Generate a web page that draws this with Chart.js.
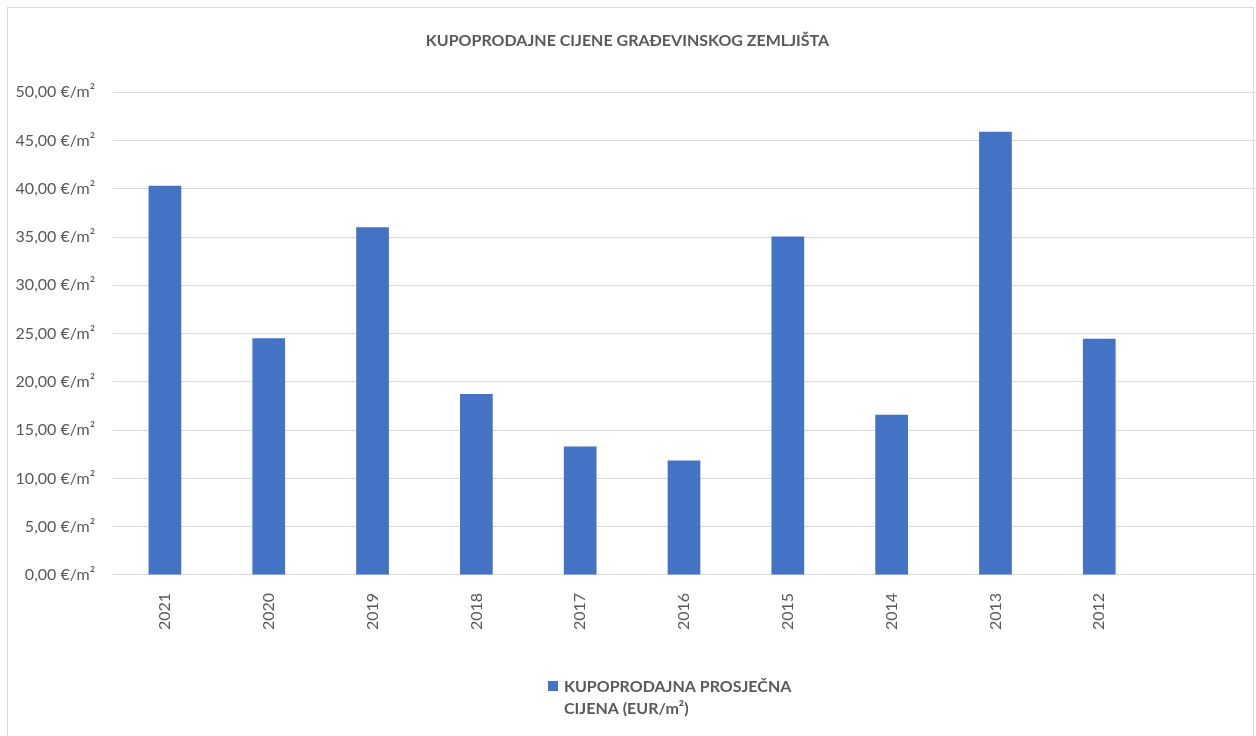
<!DOCTYPE html>
<html lang="hr">
<head>
  <meta charset="UTF-8" />
  <title>Kupoprodajne cijene građevinskog zemljišta</title>
  <script src="https://cdn.jsdelivr.net/npm/chart.js"></script>
  <style>
    html, body { margin: 0; padding: 0; background: #fff; }
    #wrap { position: relative; width: 1256px; height: 736px; }
  </style>
</head>
<body>
  <div id="wrap"><canvas id="chart"></canvas></div>

  <script>
    // data
    const years = ['2021', '2020', '2019', '2018', '2017', '2016', '2015', '2014', '2013', '2012', ''];
    const prices = [40.3, 24.5, 36.0, 18.75, 13.3, 11.85, 35.05, 16.6, 45.9, 24.45, null];
    const yTicks = [0, 5, 10, 15, 20, 25, 30, 35, 40, 45, 50];

    const titleText = 'KUPOPRODAJNE CIJENE GRAĐEVINSKOG ZEMLJIŠTA';
    const legendLines = ['KUPOPRODAJNA PROSJEČNA', 'CIJENA (EUR/m²)'];

    const textColor = '#595959';
    const barColor = '#4472C4';
    const fontFamily = 'Lato, "Open Sans", sans-serif';

    function euro(v) {
      return v.toFixed(2).replace('.', ',') + ' €/m²';
    }

    // white background + thin frame like the office chart border
    const frame = {
      id: 'frame',
      beforeDraw(chart) {
        const ctx = chart.ctx;
        ctx.save();
        ctx.fillStyle = '#fff';
        ctx.fillRect(0, 0, chart.width, chart.height);
        ctx.strokeStyle = '#d9d9d9';
        ctx.lineWidth = 1;
        ctx.strokeRect(7.5, 7.5, chart.width - 10, chart.height + 10);
        ctx.restore();
      }
    };

    // two-line legend under the axis
    const wrapLegend = {
      id: 'wrapLegend',
      afterDraw(chart) {
        const ctx = chart.ctx;
        const ds = chart.data.datasets[0];
        const x = 548, y = 681;
        ctx.save();
        ctx.fillStyle = ds.backgroundColor;
        ctx.fillRect(x, y, 10, 10);
        ctx.fillStyle = textColor;
        ctx.font = 'bold 16px ' + fontFamily;
        ctx.textBaseline = 'middle';
        ctx.textAlign = 'left';
        legendLines.forEach((line, i) => ctx.fillText(line, x + 16, y + 6 + i * 22));
        ctx.restore();
      }
    };

    new Chart(document.getElementById('chart'), {
      type: 'bar',
      data: {
        labels: years,
        datasets: [{
          label: legendLines.join(' '),
          data: prices,
          backgroundColor: barColor,
          barPercentage: 0.315,
          categoryPercentage: 1
        }]
      },
      options: {
        responsive: true,
        maintainAspectRatio: false,
        animation: false,
        layout: { padding: { top: 0, right: 1, bottom: 96, left: 0 } },
        plugins: {
          legend: { display: false },
          tooltip: { enabled: false },
          title: {
            display: true,
            text: titleText,
            color: textColor,
            font: { family: fontFamily, size: 16, weight: 'bold' },
            padding: { top: 31, bottom: 42 }
          }
        },
        scales: {
          x: {
            grid: { display: false },
            border: { color: '#d9d9d9', width: 1 },
            ticks: {
              color: textColor,
              font: { family: fontFamily, size: 16 },
              minRotation: 90,
              maxRotation: 90,
              autoSkip: false,
              padding: 10
            }
          },
          y: {
            min: 0,
            max: 50,
            afterFit(scale) { scale.width = 113; },
            afterBuildTicks(scale) { scale.ticks = yTicks.map(v => ({ value: v })); },
            grid: { color: '#d9d9d9', lineWidth: 1, drawTicks: false },
            border: { display: false },
            ticks: {
              color: textColor,
              font: { family: fontFamily, size: 16 },
              padding: 18,
              callback: v => euro(v)
            }
          }
        }
      },
      plugins: [frame, wrapLegend]
    });
  </script>
</body>
</html>
